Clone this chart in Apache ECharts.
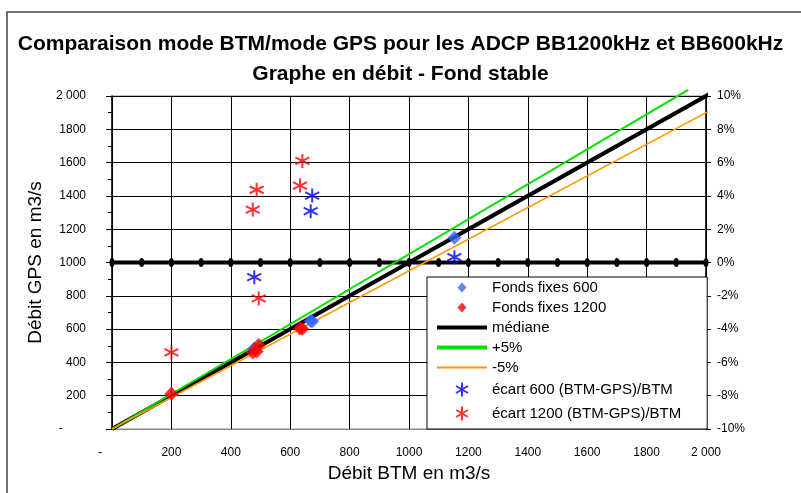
<!DOCTYPE html>
<html><head><meta charset="utf-8">
<script src="https://cdn.jsdelivr.net/npm/echarts@6/dist/echarts.min.js"></script>
<style>html,body{margin:0;padding:0;background:#fff}#c{width:801px;height:493px}</style>
</head><body><div id="c"></div>
<script>
// ---- data ----
var btm600 = [479, 669, 674, 1153];
var gps600 = [483, 648, 647, 1149];
var ecart600 = [-0.88, 3.08, 4.02, 0.32];
var btm1200 = [200, 474, 487, 494, 633, 641];
var gps1200 = [211, 459, 466, 505, 604, 602];
var ecart1200 = [-5.4, 3.18, 4.37, -2.16, 4.62, 6.1];
var medianeX = [0, 2030];
var medianeY = [0, 2030];
var plus5X = [0, 1940];
var plus5Y = [0, 2037];
var minus5X = [0, 2025];
var minus5Y = [0, 1924];
var zeroLineX = [0,100,200,300,400,500,600,700,800,900,1000,1100,1200,1300,1400,1500,1600,1700,1800,1900,2000];
var pctTicks = ['-10%','-8%','-6%','-4%','-2%','0%','2%','4%','6%','8%','10%'];
var legendNames = ['Fonds fixes 600','Fonds fixes 1200','médiane','+5%','-5%','écart 600 (BTM-GPS)/BTM','écart 1200 (BTM-GPS)/BTM'];

function pairs(xs, ys){ return xs.map(function(x,i){return [x, ys[i]];}); }
var FONT = 'Liberation Sans, Arial, sans-serif';
var star = 'path://M10,0L10,20M1.5,5L18.5,15M1.5,15L18.5,5';
// legend icons padded to the full 50x14 icon box so they are not stretched
var diamondIcon = 'path://M0,0L0,0M50,14L50,14M25,2L29.5,7L25,12L20.5,7Z';
function fmtNum(v){
  if (v === 0) return '-       ';
  if (v === 2000) return '2 000';
  return String(v);
}

var chart = echarts.init(document.getElementById('c'));
chart.setOption({
  animation: false,
  backgroundColor: '#fff',
  graphic: [{type:'rect', shape:{x:7, y:12, width:820, height:520}, style:{fill:'none', stroke:'#444', lineWidth:1.5}, silent:true, z:-1}],
  title: {
    text: 'Comparaison mode BTM/mode GPS pour les ADCP BB1200kHz et BB600kHz\nGraphe en débit - Fond stable',
    left: 'center', top: 24,
    textStyle: {fontFamily: FONT, fontSize: 21, fontWeight: 'bold', color: '#000', lineHeight: 30}
  },
  legend: {
    orient: 'vertical', left: 427, top: 277,
    backgroundColor: '#fff', borderColor: '#000', borderWidth: 1, borderRadius: 0,
    padding: [3, 26, 6, 8], itemGap: 5, itemWidth: 50, itemHeight: 14,
    textStyle: {fontFamily: FONT, fontSize: 15, color: '#000'},
    data: [
      {name: legendNames[0], icon: diamondIcon},
      {name: legendNames[1], icon: diamondIcon},
      {name: legendNames[2], itemStyle: {opacity: 0}, lineStyle: {width: 4}},
      {name: legendNames[3], itemStyle: {opacity: 0}, lineStyle: {width: 4}},
      {name: legendNames[4], itemStyle: {opacity: 0}, lineStyle: {width: 2}},
      {name: legendNames[5]},
      {name: legendNames[6]}
    ]
  },
  grid: {left: 112, right: 95, top: 96, bottom: 64, show: true, borderColor: '#888', borderWidth: 1},
  xAxis: {
    type: 'value', min: 0, max: 2000, interval: 200,
    name: 'Débit BTM en m3/s', nameLocation: 'middle', nameGap: 34,
    nameTextStyle: {fontFamily: FONT, fontSize: 19, color: '#000'},
    axisLine: {show: true, onZero: false, lineStyle: {color: '#888'}},
    axisTick: {show: false},
    axisLabel: {fontFamily: FONT, fontSize: 12, color: '#000', margin: 18, formatter: fmtNum},
    splitLine: {show: true, lineStyle: {color: '#000', width: 1}}
  },
  yAxis: [{
    type: 'value', min: 0, max: 2000, interval: 200, position: 'left',
    name: 'Débit GPS en m3/s', nameLocation: 'middle', nameGap: 65, nameRotate: 90,
    nameTextStyle: {fontFamily: FONT, fontSize: 19, color: '#000'},
    axisLine: {show: true, onZero: false, lineStyle: {color: '#000', width: 1.5}},
    axisTick: {show: true, length: 6, lineStyle: {color: '#000'}},
    minorTick: {show: true, splitNumber: 2, length: 4, lineStyle: {color: '#000'}},
    axisLabel: {fontFamily: FONT, fontSize: 12, color: '#000', margin: 26, formatter: fmtNum},
    splitLine: {show: true, lineStyle: {color: '#000', width: 1}}
  }, {
    type: 'value', min: -10, max: 10, interval: 2, position: 'right',
    axisLine: {show: true, onZero: false, lineStyle: {color: '#000', width: 1.5}},
    axisTick: {show: true, length: 5, lineStyle: {color: '#000'}},
    axisLabel: {fontFamily: FONT, fontSize: 12, color: '#000', margin: 11,
      formatter: function(v){ return pctTicks[Math.round((v + 10) / 2)]; }},
    splitLine: {show: false}
  }],
  series: [
    {name: 'zero', type: 'line', yAxisIndex: 1, data: zeroLineX.map(function(x){return [x, 0];}),
     symbol: 'circle', symbolSize: [5, 9], itemStyle: {color: '#000'}, lineStyle: {color: '#000', width: 4}, z: 3},
    {name: 'médiane', type: 'line', data: pairs(medianeX, medianeY), symbol: 'none', clip: false,
     lineStyle: {color: '#000', width: 4}, itemStyle: {color: '#000'}, z: 4},
    {name: '+5%', type: 'line', data: pairs(plus5X, plus5Y), symbol: 'none', clip: false,
     lineStyle: {color: '#00E000', width: 2}, itemStyle: {color: '#00E000'}, z: 4},
    {name: '-5%', type: 'line', data: pairs(minus5X, minus5Y), symbol: 'none', clip: false,
     lineStyle: {color: '#FF9900', width: 1.5}, itemStyle: {color: '#FF9900'}, z: 4},
    {name: 'Fonds fixes 600', type: 'scatter', data: pairs(btm600, gps600), symbol: 'diamond', symbolSize: 14,
     itemStyle: {color: '#3366FF'}, z: 5},
    {name: 'Fonds fixes 1200', type: 'scatter', data: pairs(btm1200, gps1200), symbol: 'diamond', symbolSize: 14,
     itemStyle: {color: '#FF0000'}, z: 6},
    {name: 'écart 600 (BTM-GPS)/BTM', type: 'scatter', yAxisIndex: 1, data: pairs(btm600, ecart600), symbol: star, symbolSize: 14,
     itemStyle: {color: 'none', borderColor: '#0000FF', borderWidth: 2}, z: 7},
    {name: 'écart 1200 (BTM-GPS)/BTM', type: 'scatter', yAxisIndex: 1, data: pairs(btm1200, ecart1200), symbol: star, symbolSize: 14,
     itemStyle: {color: 'none', borderColor: '#FF0000', borderWidth: 2}, z: 7}
  ]
});
</script></body></html>
